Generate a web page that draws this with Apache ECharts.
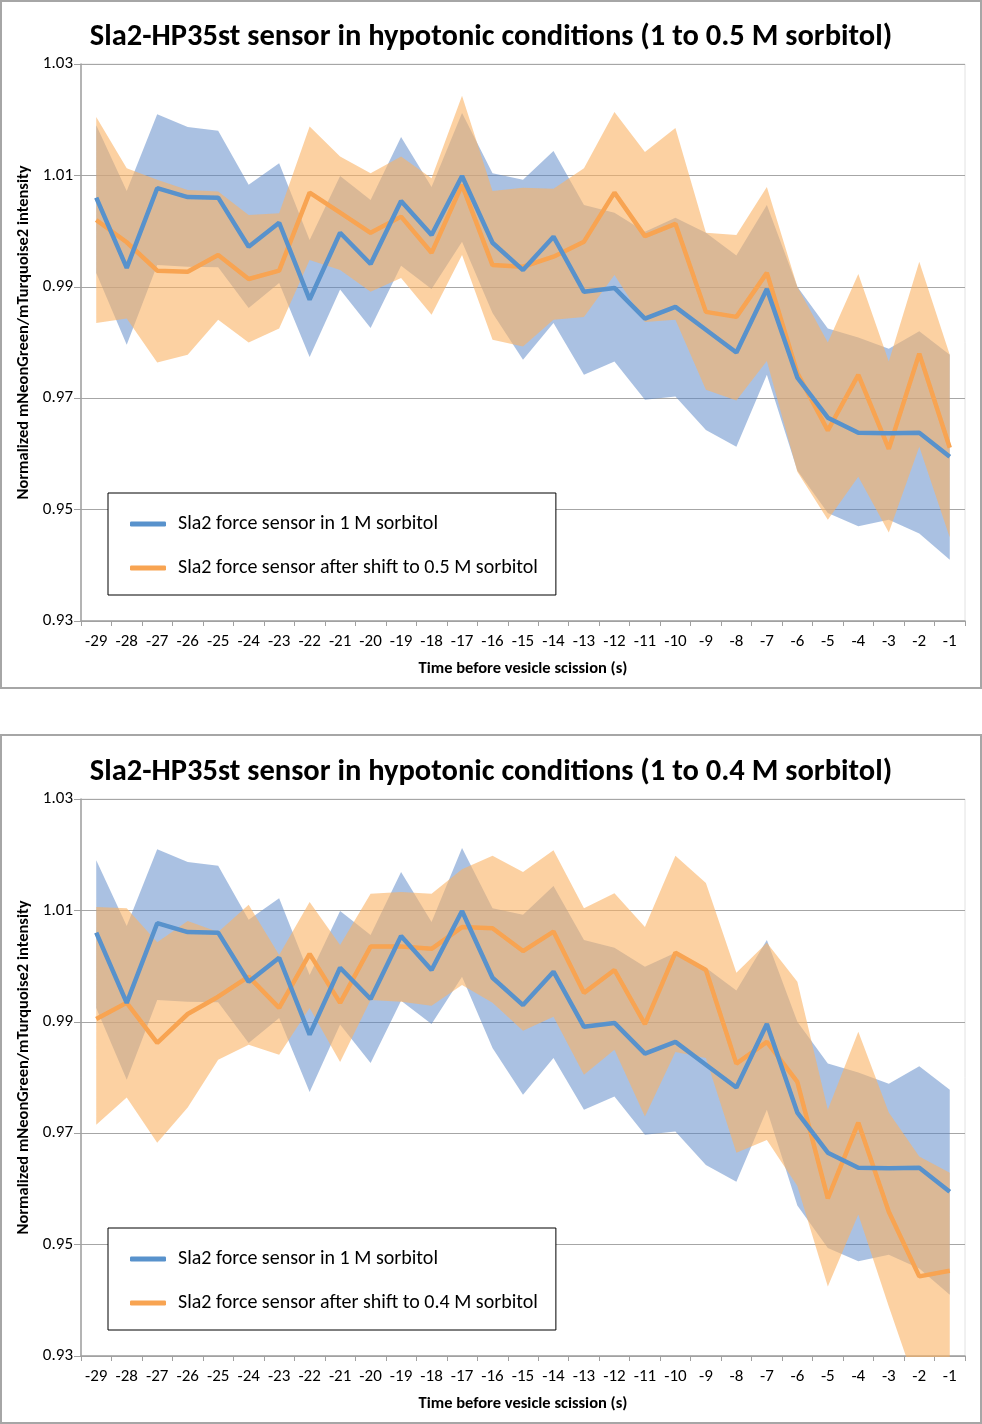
<!DOCTYPE html>
<html>
<head>
<meta charset="utf-8">
<script src="https://cdn.jsdelivr.net/npm/echarts@6/dist/echarts.min.js"></script>
<style>
  body { margin: 0; background: #fff; }
  .chart { position: absolute; left: 0; width: 982px; }
  .frame { position: absolute; left: 0; width: 982px; border: 2px solid #a6a6a6; box-sizing: border-box; pointer-events: none; }
</style>
</head>
<body>
<div id="chart1" class="chart" style="top:0;height:688px"></div>
<div id="chart2" class="chart" style="top:735px;height:689px"></div>
<div class="frame" style="top:0;height:689px"></div>
<div class="frame" style="top:734px;height:690px"></div>
<script>
// time points (s before scission)
var xLabels = ['-29', '-28', '-27', '-26', '-25', '-24', '-23', '-22', '-21', '-20',
  '-19', '-18', '-17', '-16', '-15', '-14', '-13', '-12', '-11', '-10',
  '-9', '-8', '-7', '-6', '-5', '-4', '-3', '-2', '-1'];

// Sla2 force sensor in 1 M sorbitol (same in both panels)
var blueMean = [1.006, 0.9934, 1.0077, 1.0061, 1.0060, 0.9972, 1.0015, 0.9877, 0.9997, 0.9941,
  1.0054, 0.9993, 1.0099, 0.9979, 0.9930, 0.9990, 0.9891, 0.9898, 0.9843, 0.9864,
  0.9823, 0.9782, 0.9896, 0.9737, 0.9665, 0.9638, 0.9637, 0.9638, 0.9595];
var blueHigh = [1.019, 1.0072, 1.021, 1.0187, 1.018, 1.0083, 1.0122, 0.9984, 1.0099, 1.0056,
  1.0169, 1.0079, 1.0212, 1.0104, 1.0092, 1.0144, 1.0047, 1.0033, 0.9999, 1.0024,
  0.9997, 0.9956, 1.0047, 0.990, 0.9825, 0.9809, 0.9789, 0.982, 0.9778];
var blueLow = [0.9925, 0.9796, 0.9939, 0.9936, 0.9935, 0.9862, 0.9907, 0.9774, 0.9895, 0.9826,
  0.9938, 0.9896, 0.9981, 0.9853, 0.9769, 0.9835, 0.9742, 0.9766, 0.9697, 0.9703,
  0.9643, 0.9613, 0.9742, 0.957, 0.9494, 0.947, 0.9482, 0.9457, 0.941];

// after shift to 0.5 M sorbitol
var orange05Mean = [1.002, 0.998, 0.9929, 0.9927, 0.9957, 0.9914, 0.9929, 1.0069, 1.0033, 0.9997,
  1.0026, 0.9961, 1.0083, 0.9939, 0.9936, 0.9954, 0.9981, 1.0069, 0.9991, 1.0013,
  0.9855, 0.9846, 0.9925, 0.9745, 0.9642, 0.9742, 0.9609, 0.978, 0.9611];
var orange05High = [1.0205, 1.0113, 1.0092, 1.0074, 1.0071, 1.0029, 1.0032, 1.0188, 1.0134, 1.0104,
  1.0134, 1.0095, 1.0243, 1.0072, 1.0078, 1.0076, 1.0113, 1.0214, 1.0142, 1.0185,
  0.9997, 0.9993, 1.0079, 0.990, 0.980, 0.9923, 0.9766, 0.9945, 0.9778];
var orange05Low = [0.9835, 0.9843, 0.9764, 0.9778, 0.9841, 0.980, 0.9825, 0.9948, 0.993, 0.9891,
  0.9916, 0.985, 0.9957, 0.9805, 0.9793, 0.9841, 0.9846, 0.9921, 0.9837, 0.9841,
  0.9715, 0.9696, 0.9767, 0.9568, 0.9482, 0.9559, 0.9459, 0.9613, 0.945];

// after shift to 0.4 M sorbitol
var orange04Mean = [0.9905, 0.9934, 0.9862, 0.9914, 0.9945, 0.9981, 0.9925, 1.0022, 0.9934, 1.0035,
  1.0035, 1.0031, 1.007, 1.0068, 1.0027, 1.0062, 0.9952, 0.9993, 0.9896, 1.0024,
  0.9993, 0.9825, 0.9864, 0.9792, 0.9583, 0.9719, 0.9559, 0.9443, 0.9453];
var orange04High = [1.0106, 1.0104, 1.0043, 1.0081, 1.0061, 1.011, 1.002, 1.0115, 1.0038, 1.013,
  1.0133, 1.013, 1.0174, 1.0198, 1.0169, 1.0208, 1.0104, 1.0131, 1.007, 1.0198,
  1.0149, 0.9988, 1.0042, 0.9972, 0.9742, 0.9882, 0.9737, 0.9658, 0.9629];
var orange04Low = [0.9715, 0.9764, 0.9683, 0.9746, 0.9832, 0.9859, 0.9841, 0.9925, 0.9828, 0.9939,
  0.9936, 0.9929, 0.9966, 0.9934, 0.9884, 0.9909, 0.9805, 0.985, 0.973, 0.9846,
  0.9835, 0.9665, 0.9688, 0.9605, 0.9425, 0.9554, 0.9389, 0.923, 0.928];

var FONT = "Carlito, Calibri, Lato, sans-serif";
var BLUE_LINE = '#5892CC';
var ORANGE_LINE = '#F8A452';
var BLUE_BAND = 'rgba(85,131,197,0.5)';
var ORANGE_BAND = 'rgba(250,178,100,0.6)';
var blueName = 'Sla2 force sensor in 1 M sorbitol';

function bandWidth(high, low) {
  return high.map(function (v, i) { return +(v - low[i]).toFixed(5); });
}

// low edge is an invisible stacked line, the band is stacked on it
function band(id, low, high, color) {
  return [
    { type: 'line', stack: id, data: low, symbol: 'none', silent: true,
      lineStyle: { opacity: 0 } },
    { type: 'line', stack: id, data: bandWidth(high, low), symbol: 'none', silent: true,
      lineStyle: { opacity: 0 }, areaStyle: { color: color, opacity: 1 } }
  ];
}

function makeOption(title, orangeName, oMean, oLow, oHigh, gridBottom) {
  return {
    animation: false,
    textStyle: { fontFamily: FONT },
    title: {
      text: title, left: 'center', top: 22, padding: 0,
      textStyle: { fontFamily: FONT, fontSize: 30.5, fontWeight: 'bold', color: '#000' }
    },
    grid: { left: 81, right: 17, top: 64, bottom: gridBottom, show: true, borderColor: '#e2e2e2', borderWidth: 1 },
    legend: {
      data: [blueName, orangeName],
      orient: 'vertical', left: 108, top: 493,
      padding: [21, 18, 17, 22], itemGap: 24,
      itemWidth: 36, itemHeight: 5, icon: 'roundRect',
      borderColor: '#000', borderWidth: 1, backgroundColor: '#fff',
      textStyle: { fontFamily: FONT, fontSize: 20, color: '#000', padding: [0, 0, 0, 7] }
    },
    xAxis: {
      type: 'category', data: xLabels, boundaryGap: true,
      name: 'Time before vesicle scission (s)', nameLocation: 'middle', nameGap: 39,
      nameTextStyle: { fontFamily: FONT, fontWeight: 'bold', fontSize: 16.5, color: '#000' },
      axisLine: { lineStyle: { color: '#a0a0a0', width: 1.5 } },
      axisTick: { show: true, length: 5, lineStyle: { color: '#a0a0a0' } },
      axisLabel: { color: '#000', fontSize: 17, margin: 12, interval: 0 }
    },
    yAxis: {
      type: 'value', min: 0.93, max: 1.03, interval: 0.02,
      name: 'Normalized mNeonGreen/mTurquoise2 intensity', nameLocation: 'middle', nameGap: 46,
      nameTextStyle: { fontFamily: FONT, fontWeight: 'bold', fontSize: 16.5, color: '#000', padding: [0, 0, 0, 20] },
      axisLine: { show: true, lineStyle: { color: '#a0a0a0', width: 1.5 } },
      axisTick: { show: true, length: 7, lineStyle: { color: '#a0a0a0' } },
      splitLine: { lineStyle: { color: '#a6a6a6', width: 1.2 } },
      axisLabel: { color: '#000', fontSize: 17, margin: 8,
        formatter: function (v) { return v.toFixed(2); } }
    },
    series: band('blue', blueLow, blueHigh, BLUE_BAND)
      .concat(band('orange', oLow, oHigh, ORANGE_BAND))
      .concat([
        { name: orangeName, type: 'line', data: oMean, symbol: 'none', color: ORANGE_LINE,
          lineStyle: { width: 4.5, color: ORANGE_LINE } },
        { name: blueName, type: 'line', data: blueMean, symbol: 'none', color: BLUE_LINE,
          lineStyle: { width: 4.5, color: BLUE_LINE } }
      ])
  };
}

var chart1 = echarts.init(document.getElementById('chart1'));
chart1.setOption(makeOption('Sla2-HP35st sensor in hypotonic conditions (1 to 0.5 M sorbitol)',
  'Sla2 force sensor after shift to 0.5 M sorbitol', orange05Mean, orange05Low, orange05High, 67));

var chart2 = echarts.init(document.getElementById('chart2'));
chart2.setOption(makeOption('Sla2-HP35st sensor in hypotonic conditions (1 to 0.4 M sorbitol)',
  'Sla2 force sensor after shift to 0.4 M sorbitol', orange04Mean, orange04Low, orange04High, 68));
</script>
</body>
</html>
